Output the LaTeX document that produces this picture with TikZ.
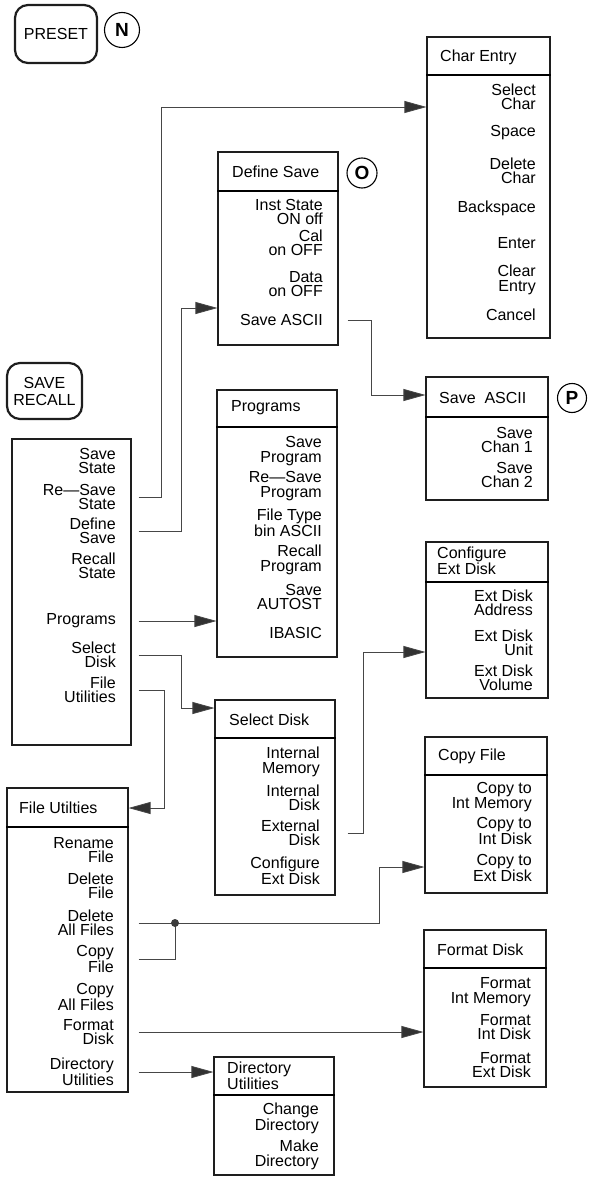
\documentclass[tikz,border=0pt]{standalone}
\usepackage{fontspec}
\setmainfont{Liberation Sans}
\usetikzlibrary{arrows.meta,fit}

\begin{document}
\begin{tikzpicture}[x=1pt,y=1pt,yscale=-1,xscale=1,
  menubox/.style={draw={rgb,255:red,30;green,30;blue,30},line width=1.1,inner sep=0pt},
  keycap/.style={draw={rgb,255:red,30;green,30;blue,30},line width=2.2,rounded corners=13pt,inner sep=0pt,align=center,font=\fontsize{16}{17}\selectfont},
  tag/.style={draw,circle,line width=1.1,inner sep=0pt,font=\bfseries\fontsize{19}{19}\selectfont},
  rule/.style={line width=1.5},
  boxtitle/.style={anchor=west,inner sep=0pt,align=left,font=\fontsize{16}{14.5}\selectfont},
  entry/.style={anchor=east,inner sep=0pt,align=right,font=\fontsize{16}{14.5}\selectfont},
  feed/.style={draw={rgb,255:red,70;green,70;blue,70},line width=0.8,-{Triangle[length=22pt,width=12pt,fill={rgb,255:red,50;green,50;blue,50}]}},
  plain/.style={draw={rgb,255:red,70;green,70;blue,70},line width=0.8}]
\useasboundingbox (0,0) rectangle (595,1177);

%Keys
\node[keycap,minimum width=82,minimum height=58] (preset) at (56,34) {PRESET};
\node[tag,minimum size=35] (tagN) at (122,30) {N};
\node[keycap,minimum width=75,minimum height=56] (saverecall) at (44.5,391) {SAVE\\RECALL};

%Save/Recall menu
\node[menubox,fit={(12,439) (131,745)}] (mainmenu) {};
\node[entry] (ssSave) at (116,461) {Save\\State};
\node[entry] (ssResave) at (116,497) {Re---Save\\State};
\node[entry] (ssDefine) at (116,531) {Define\\Save};
\node[entry] (ssRecall) at (116,566) {Recall\\State};
\node[entry] (ssProg) at (116,621) {Programs};
\node[entry] (ssSelect) at (116,655) {Select\\Disk};
\node[entry] (ssFile) at (116,690) {File\\Utilities};

%Char Entry
\node[menubox,fit={(427,37) (550,338)}] (charentry) {};
\draw[rule] (charentry.west |- 0,75) -- (charentry.east |- 0,75);
\node[boxtitle] (ceTitle) at (440,57) {Char Entry};
\node[entry] (ceSelect) at (536,97) {Select\\Char};
\node[entry] (ceSpace) at (536,133) {Space};
\node[entry] (ceDelete) at (536,171) {Delete\\Char};
\node[entry] (ceBack) at (536,208) {Backspace};
\node[entry] (ceEnter) at (536,243) {Enter};
\node[entry] (ceClear) at (536,280) {Clear\\Entry};
\node[entry] (ceCancel) at (536,315) {Cancel};

%Define Save
\node[menubox,fit={(218,152) (338,345)}] (defsave) {};
\draw[rule] (defsave.west |- 0,191) -- (defsave.east |- 0,191);
\node[boxtitle] (dsTitle) at (232,172) {Define Save};
\node[tag,minimum size=30] (tagO) at (362,173) {O};
\node[entry] (dsInst) at (323,212) {Inst State\\ON off};
\node[entry] (dsCal) at (323,243) {Cal\\on OFF};
\node[entry] (dsData) at (323,284) {Data\\on OFF};
\node[entry] (dsAscii) at (323,320) {Save ASCII};

%Programs
\node[menubox,fit={(217,390) (337,657)}] (programs) {};
\draw[rule] (programs.west |- 0,427) -- (programs.east |- 0,427);
\node[boxtitle] (pgTitle) at (231,408) {Programs};
\node[entry] (pgSave) at (322,451) {Save\\Program};
\node[entry] (pgResave) at (322,486) {Re---Save\\Program};
\node[entry] (pgType) at (322,523) {File Type\\bin ASCII};
\node[entry] (pgRecall) at (322,560) {Recall\\Program};
\node[entry] (pgAuto) at (322,597) {Save\\AUTOST};
\node[entry] (pgBasic) at (322,633) {IBASIC};

%Save ASCII
\node[menubox,fit={(426,377) (548,500)}] (saveascii) {};
\draw[rule] (saveascii.west |- 0,417) -- (saveascii.east |- 0,417);
\node[boxtitle] (saTitle) at (439,398) {Save\ \ ASCII};
\node[tag,minimum size=29] (tagP) at (572,398) {P};
\node[entry] (saChan1) at (533,440) {Save\\Chan 1};
\node[entry] (saChan2) at (533,475) {Save\\Chan 2};

%Configure Ext Disk
\node[menubox,fit={(426,542) (548,698)}] (confdisk) {};
\draw[rule] (confdisk.west |- 0,582) -- (confdisk.east |- 0,582);
\node[boxtitle] (cdTitle) at (437,561) {Configure\\Ext Disk};
\node[entry] (cdAddr) at (533,603) {Ext Disk\\Address};
\node[entry] (cdUnit) at (533,643) {Ext Disk\\Unit};
\node[entry] (cdVol) at (533,678) {Ext Disk\\Volume};

%Select Disk
\node[menubox,fit={(215,700) (335,895)}] (seldisk) {};
\draw[rule] (seldisk.west |- 0,738) -- (seldisk.east |- 0,738);
\node[boxtitle] (sdTitle) at (229,720) {Select Disk};
\node[entry] (sdIntMem) at (320,762) {Internal\\Memory};
\node[entry] (sdIntDisk) at (320,798) {Internal\\Disk};
\node[entry] (sdExt) at (320,833) {External\\Disk};
\node[entry] (sdConf) at (320,871) {Configure\\Ext Disk};

%Copy File
\node[menubox,fit={(425,737) (547,893)}] (copyfile) {};
\draw[rule] (copyfile.west |- 0,775) -- (copyfile.east |- 0,775);
\node[boxtitle] (cfTitle) at (438,756) {Copy File};
\node[entry] (cfMem) at (532,797) {Copy to\\Int Memory};
\node[entry] (cfInt) at (532,831) {Copy to\\Int Disk};
\node[entry] (cfExt) at (532,868) {Copy to\\Ext Disk};

%Format Disk
\node[menubox,fit={(424,930) (546,1087)}] (fmtdisk) {};
\draw[rule] (fmtdisk.west |- 0,968) -- (fmtdisk.east |- 0,968);
\node[boxtitle] (fdTitle) at (437,950) {Format Disk};
\node[entry] (fdMem) at (531,992) {Format\\Int Memory};
\node[entry] (fdInt) at (531,1027) {Format\\Int Disk};
\node[entry] (fdExt) at (531,1065) {Format\\Ext Disk};

%File Utilities
\node[menubox,fit={(7,788) (128,1092)}] (fileutil) {};
\draw[rule] (fileutil.west |- 0,827) -- (fileutil.east |- 0,827);
\node[boxtitle] (fuTitle) at (19,808) {File Utilties};
\node[entry] (fuRename) at (114,850) {Rename\\File};
\node[entry] (fuDelete) at (114,886) {Delete\\File};
\node[entry] (fuDelAll) at (114,923) {Delete\\All Files};
\node[entry] (fuCopy) at (114,959) {Copy\\File};
\node[entry] (fuCopyAll) at (114,997) {Copy\\All Files};
\node[entry] (fuFormat) at (114,1032) {Format\\Disk};
\node[entry] (fuDir) at (114,1072) {Directory\\Utilities};

%Directory Utilities
\node[menubox,fit={(214,1057) (334,1175)}] (dirutil) {};
\draw[rule] (dirutil.west |- 0,1095) -- (dirutil.east |- 0,1095);
\node[boxtitle] (duTitle) at (227,1076) {Directory\\Utilities};
\node[entry] (duChange) at (319,1118) {Change\\Directory};
\node[entry] (duMake) at (319,1155) {Make\\Directory};

%Connectors
\draw[feed] (mainmenu.east |- ssResave) ++(7,0) -| (161,107) -- (charentry.west |- 0,107);
\draw[feed] (mainmenu.east |- ssDefine) ++(7,0) -| (181,308) -- (defsave.west |- 0,308);
\draw[feed] (mainmenu.east |- ssProg) ++(7,0) -- (programs.west |- ssProg);
\draw[feed] (mainmenu.east |- ssSelect) ++(7,0) -| (181,708) -- (seldisk.west |- 0,708);
\draw[feed] (mainmenu.east |- ssFile) ++(7,0) -| (164,808) -- (fileutil.east |- 0,808);
\draw[feed] (defsave.east |- dsAscii) ++(9,0) -| (371,395) -- (saveascii.west |- 0,395);
\draw[feed] (seldisk.east |- sdExt) ++(12,0) -| (363,652) -- (confdisk.west |- 0,652);

\coordinate (junction) at (175,923);
\draw[feed] (fileutil.east |- fuDelAll) ++(10,0) -- (junction) -| (379,867) -- (copyfile.west |- 0,867);
\draw[plain] (fileutil.east |- fuCopy) ++(10,0) -| (junction);
\fill[color={rgb,255:red,60;green,60;blue,60}] (junction) circle (4);
\draw[feed] (fileutil.east |- fuFormat) ++(10,0) -- (fmtdisk.west |- fuFormat);
\draw[feed] (fileutil.east |- fuDir) ++(10,0) -- (dirutil.west |- fuDir);

\end{tikzpicture}
\end{document}
